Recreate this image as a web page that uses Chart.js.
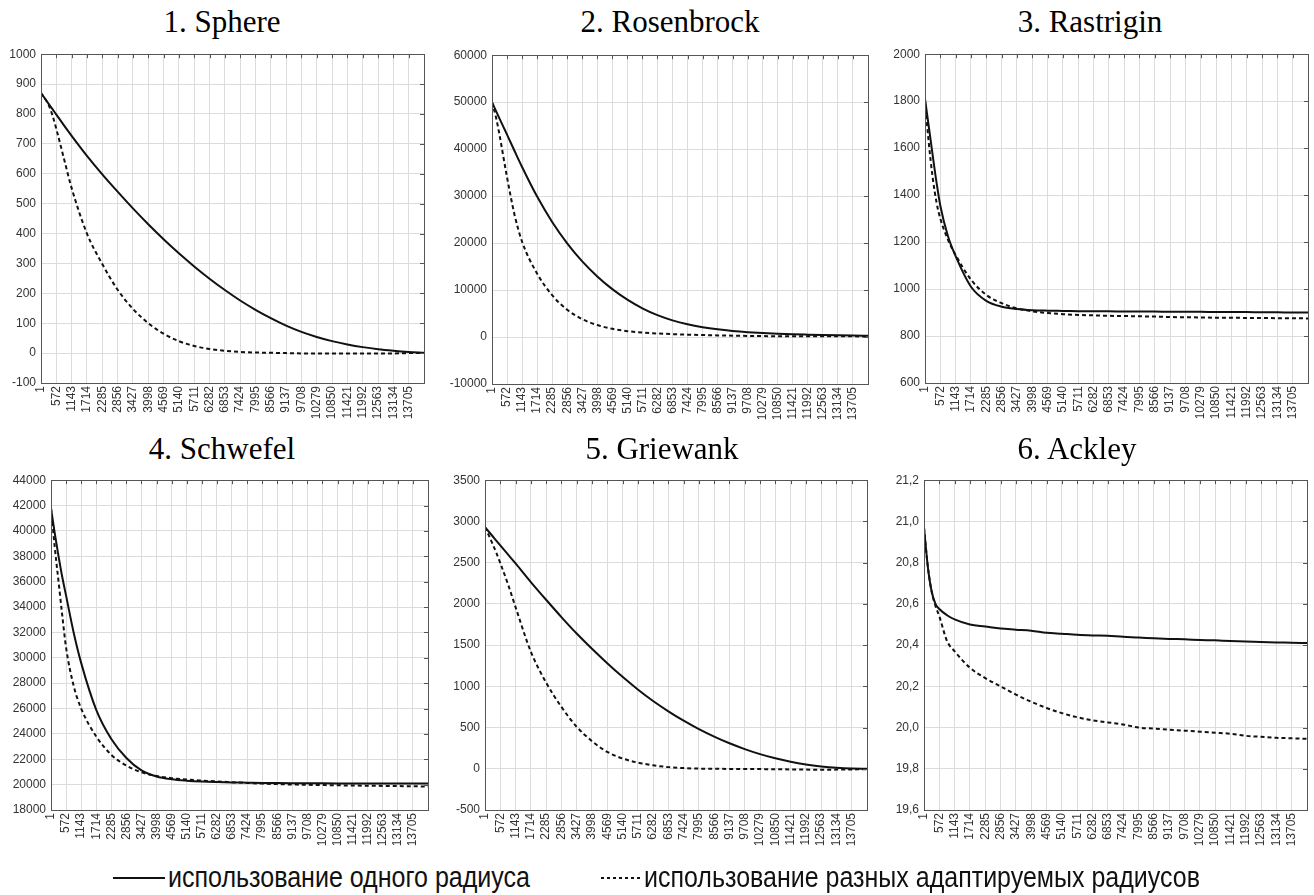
<!DOCTYPE html>
<html>
<head>
<meta charset="utf-8">
<script src="https://cdn.jsdelivr.net/npm/chart.js@4/dist/chart.umd.min.js"></script>
<style>
  html, body { margin: 0; padding: 0; background: #fff; }
  body { width: 1314px; height: 895px; position: relative; overflow: hidden; }
  canvas { position: absolute; }
  .title { position: absolute; font-family: "Liberation Serif", "Times New Roman", serif; font-size: 31px; color: #000; white-space: nowrap; transform: translateX(-50%); line-height: 1; }
  .legtext { position: absolute; font-family: "Liberation Sans", Arial, sans-serif; font-size: 29px; color: #111; white-space: nowrap; line-height: 1; transform-origin: 0 0; }
  .legline { position: absolute; height: 2px; }
</style>
</head>
<body>
<script>
// ---------------- DATA ----------------
const iterations = [1, 144, 287, 429, 572, 858, 1143, 1714, 2285, 2856, 3427, 3998, 4569, 5140, 5711, 6282, 6853, 7424, 7995, 8566, 9137, 9708, 10279, 10850, 11421, 11992, 12563, 13134, 13705, 14276];
const xTickValues = [1, 572, 1143, 1714, 2285, 2856, 3427, 3998, 4569, 5140, 5711, 6282, 6853, 7424, 7995, 8566, 9137, 9708, 10279, 10850, 11421, 11992, 12563, 13134, 13705];
const seriesNames = ["использование одного радиуса", "использование разных адаптируемых радиусов"];
const chartTitles = ["1. Sphere", "2. Rosenbrock", "3. Rastrigin", "4. Schwefel", "5. Griewank", "6. Ackley"];

const sphereSingle   = [870, 852, 834, 816, 798, 762, 727, 660, 598, 540, 484, 431, 381, 334, 290, 249, 211, 176, 145, 117, 92, 71, 54, 40, 29, 20, 13, 8, 4, 1];
const sphereAdaptive = [870, 852, 830, 795, 750, 650, 552, 400, 298, 212, 148, 100, 65, 40, 24, 14, 8, 4, 2, 1, 0, -1, -1, -1, -1, -1, -1, -1, 0, 0];
const sphereTicks    = [-100, 0, 100, 200, 300, 400, 500, 600, 700, 800, 900, 1000];

const rosenSingle   = [50000, 48250, 46500, 44800, 43100, 39600, 36200, 29900, 24500, 19950, 16100, 12900, 10200, 7950, 6100, 4650, 3550, 2720, 2100, 1640, 1300, 1040, 840, 690, 580, 500, 430, 370, 320, 280];
const rosenAdaptive = [50000, 47000, 43000, 38500, 34000, 26000, 20300, 13500, 8900, 5800, 3800, 2550, 1750, 1250, 950, 760, 620, 510, 420, 350, 290, 240, 200, 170, 150, 140, 140, 140, 140, 130];
const rosenTicks    = [-10000, 0, 10000, 20000, 30000, 40000, 50000, 60000];

const rastSingle   = [1810, 1690, 1570, 1455, 1355, 1225, 1140, 1010, 950, 925, 915, 910, 908, 907, 906, 905, 905, 904, 904, 904, 903, 903, 903, 902, 902, 902, 901, 901, 900, 900];
const rastAdaptive = [1800, 1620, 1475, 1370, 1300, 1210, 1145, 1040, 975, 940, 918, 905, 898, 893, 890, 888, 886, 885, 884, 883, 881, 880, 879, 878, 878, 877, 877, 876, 876, 875];
const rastTicks    = [600, 800, 1000, 1200, 1400, 1600, 1800, 2000];

const schwSingle   = [41800, 39800, 38000, 36350, 34900, 32000, 29600, 25900, 23600, 22100, 21120, 20640, 20420, 20310, 20245, 20205, 20175, 20155, 20135, 20125, 20115, 20105, 20100, 20095, 20090, 20090, 20085, 20085, 20080, 20080];
const schwAdaptive = [41800, 38700, 36000, 33300, 30800, 27800, 26000, 23800, 22350, 21500, 20970, 20680, 20510, 20400, 20320, 20250, 20190, 20130, 20080, 20040, 20010, 19985, 19965, 19945, 19930, 19915, 19900, 19885, 19870, 19850];
const schwTicks    = [18000, 20000, 22000, 24000, 26000, 28000, 30000, 32000, 34000, 36000, 38000, 40000, 42000, 44000];

const griewSingle   = [2930, 2875, 2820, 2765, 2710, 2600, 2490, 2265, 2050, 1840, 1640, 1455, 1280, 1115, 962, 822, 697, 583, 481, 390, 309, 239, 178, 127, 85, 52, 28, 11, 2, 0];
const griewAdaptive = [2930, 2830, 2725, 2615, 2495, 2240, 1960, 1420, 1045, 750, 510, 335, 205, 125, 75, 42, 20, 8, 2, 0, -2, -3, -4, -5, -8, -10, -12, -10, -8, -5];
const griewTicks    = [-500, 0, 500, 1000, 1500, 2000, 2500, 3000, 3500];

const ackleySingle   = [20.97, 20.78, 20.66, 20.60, 20.575, 20.545, 20.525, 20.50, 20.49, 20.48, 20.475, 20.47, 20.46, 20.455, 20.45, 20.447, 20.445, 20.44, 20.437, 20.433, 20.43, 20.428, 20.425, 20.423, 20.42, 20.418, 20.415, 20.413, 20.412, 20.41];
const ackleyAdaptive = [20.97, 20.78, 20.66, 20.59, 20.54, 20.42, 20.37, 20.29, 20.24, 20.20, 20.16, 20.125, 20.095, 20.07, 20.05, 20.035, 20.025, 20.015, 20.0, 19.995, 19.99, 19.985, 19.98, 19.975, 19.97, 19.96, 19.955, 19.95, 19.948, 19.945];
const ackleyTicks    = [19.6, 19.8, 20.0, 20.2, 20.4, 20.6, 20.8, 21.0, 21.2];

// ---------------- LAYOUT (plot area boxes in page px) ----------------
const PAD_L = 50, PAD_T = 12, PAD_R = 8, XH = 48;
const panels = [
  { title: chartTitles[0], a: sphereSingle, b: sphereAdaptive, ticks: sphereTicks, fmt: v => String(v), box: [41, 54, 424, 383], tx: 222, ty: 6 },
  { title: chartTitles[1], a: rosenSingle,  b: rosenAdaptive,  ticks: rosenTicks,  fmt: v => String(v), box: [492, 55, 868, 384], tx: 670, ty: 6 },
  { title: chartTitles[2], a: rastSingle,   b: rastAdaptive,   ticks: rastTicks,   fmt: v => String(v), box: [925, 54, 1308, 383], tx: 1090, ty: 6 },
  { title: chartTitles[3], a: schwSingle,   b: schwAdaptive,   ticks: schwTicks,   fmt: v => String(v), box: [51, 480, 428, 810], tx: 222, ty: 433 },
  { title: chartTitles[4], a: griewSingle,  b: griewAdaptive,  ticks: griewTicks,  fmt: v => String(v), box: [485, 480, 867, 810], tx: 662, ty: 433 },
  { title: chartTitles[5], a: ackleySingle, b: ackleyAdaptive, ticks: ackleyTicks, fmt: v => v.toFixed(1).replace('.', ','), box: [924, 480, 1307, 810], tx: 1077, ty: 433 }
];

const framePlugin = {
  id: 'frame',
  afterDraw(chart) {
    const { ctx, chartArea: a, scales } = chart;
    ctx.save();
    ctx.strokeStyle = '#555';
    ctx.lineWidth = 1;
    ctx.beginPath();
    scales.x.ticks.forEach(t => {
      const x = Math.round(scales.x.getPixelForValue(t.value)) + 0.5;
      ctx.moveTo(x, a.top); ctx.lineTo(x, a.top + 4);
    });
    scales.y.ticks.forEach(t => {
      const y = Math.round(scales.y.getPixelForValue(t.value)) + 0.5;
      ctx.moveTo(a.right, y); ctx.lineTo(a.right - 4, y);
    });
    ctx.stroke();
    ctx.strokeRect(Math.round(a.left) + 0.5, Math.round(a.top) + 0.5, Math.round(a.right - a.left), Math.round(a.bottom - a.top));
    ctx.restore();
  }
};

const tickFont = { family: '"Liberation Sans", Arial, sans-serif', size: 12 };

panels.forEach(p => {
  const [l, t, r, b] = p.box;
  const cv = document.createElement('canvas');
  const W = (r - l) + PAD_L + PAD_R, H = (b - t) + PAD_T + XH;
  cv.width = W; cv.height = H;
  cv.style.left = (l - PAD_L) + 'px';
  cv.style.top = (t - PAD_T) + 'px';
  document.body.appendChild(cv);

  const title = document.createElement('div');
  title.className = 'title';
  title.textContent = p.title;
  title.style.left = p.tx + 'px';
  title.style.top = p.ty + 'px';
  document.body.appendChild(title);

  new Chart(cv, {
    type: 'line',
    data: {
      datasets: [
        { label: seriesNames[0], data: iterations.map((x, i) => ({ x, y: p.a[i] })), borderColor: '#111', borderWidth: 2, pointRadius: 0, cubicInterpolationMode: 'monotone', fill: false },
        { label: seriesNames[1], data: iterations.map((x, i) => ({ x, y: p.b[i] })), borderColor: '#111', borderWidth: 2, borderDash: [4, 3], pointRadius: 0, cubicInterpolationMode: 'monotone', fill: false }
      ]
    },
    options: {
      responsive: false,
      animation: false,
      events: [],
      layout: { padding: { left: 0, top: PAD_T, right: PAD_R, bottom: 0 } },
      plugins: { legend: { display: false }, title: { display: false }, tooltip: { enabled: false } },
      scales: {
        x: {
          type: 'linear', min: 1, max: 14276,
          afterBuildTicks: s => { s.ticks = xTickValues.map(v => ({ value: v })); },
          afterFit: s => { s.height = XH; },
          grid: { color: '#dcdcdc', lineWidth: 1, drawTicks: false },
          border: { display: false },
          ticks: { autoSkip: false, maxRotation: 90, minRotation: 90, padding: 3, color: '#333', font: tickFont, callback: v => String(v) }
        },
        y: {
          type: 'linear', min: p.ticks[0], max: p.ticks[p.ticks.length - 1],
          afterBuildTicks: s => { s.ticks = p.ticks.map(v => ({ value: v })); },
          afterFit: s => { s.width = PAD_L; },
          grid: { color: '#dcdcdc', lineWidth: 1, drawTicks: false },
          border: { display: false },
          ticks: { padding: 5, color: '#333', font: tickFont, callback: v => p.fmt(v) }
        }
      }
    },
    plugins: [framePlugin]
  });
});

// ---------------- LEGEND ----------------
function addLegend(x1, x2, style, textX, textW, text) {
  const ln = document.createElement('div');
  ln.className = 'legline';
  ln.style.left = x1 + 'px'; ln.style.width = (x2 - x1) + 'px'; ln.style.top = '877px';
  ln.style.background = style;
  document.body.appendChild(ln);
  const tx = document.createElement('div');
  tx.className = 'legtext';
  tx.textContent = text;
  tx.style.left = textX + 'px'; tx.style.top = '863px';
  document.body.appendChild(tx);
  const w = tx.getBoundingClientRect().width;
  tx.style.transform = 'scaleX(' + (textW / w).toFixed(4) + ')';
}
addLegend(113, 165, '#111', 168, 362, seriesNames[0]);
addLegend(601, 640, 'repeating-linear-gradient(90deg, #111 0 3px, transparent 3px 6px)', 644, 556, seriesNames[1]);
</script>
</body>
</html>
